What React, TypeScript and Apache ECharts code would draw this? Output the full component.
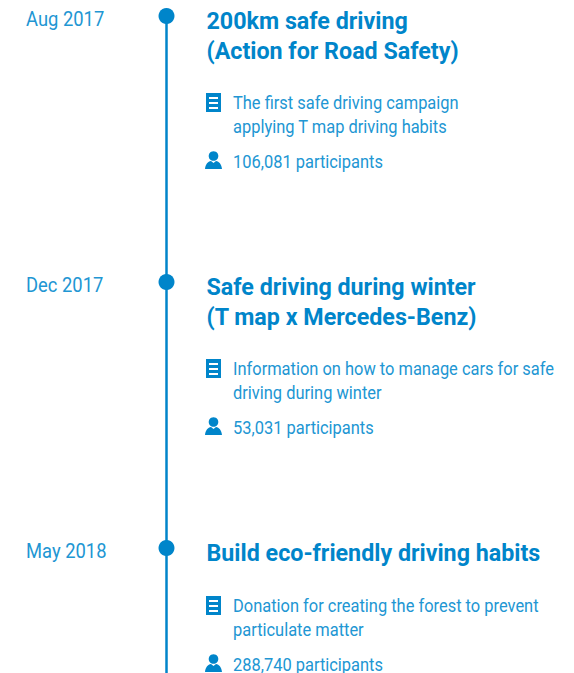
import React, { useEffect, useRef } from "react";
import * as echarts from "echarts";

const dates = ["Aug 2017", "Dec 2017", "May 2018"];
const titles = [
  ["200km safe driving", "(Action for Road Safety)"],
  ["Safe driving during winter", "(T map x Mercedes-Benz)"],
  ["Build eco-friendly driving habits"],
];
const descriptions = [
  ["The first safe driving campaign", "applying T map driving habits"],
  ["Information on how to manage cars for safe", "driving during winter"],
  ["Donation for creating the forest to prevent", "particulate matter"],
];
const participants = ["106,081 participants", "53,031 participants", "288,740 participants"];

const BLUE = "#0085ca";
const TEXT = "#2196d3";
const FONT = "Roboto";
const tops = [16, 282, 548];

echarts.graphic.registerShape(
  "personBody",
  echarts.graphic.extendPath(
    "M0 18 C0.5 13 3 10.5 6 10 L8.5 12 L11 10 C14 10.5 16.5 13 17 18 Z",
    {}
  )
);

export default function App() {
  const ref = useRef<HTMLDivElement>(null);
  useEffect(() => {
    const chart = echarts.init(ref.current!, null, { renderer: "svg" });
    const els: any[] = [];
    els.push({
      type: "line",
      shape: { x1: 166.5, y1: tops[0], x2: 166.5, y2: 673 },
      style: { stroke: BLUE, lineWidth: 2.5 },
    });
    const txt = (x: number, y: number, text: string, size: number, weight: any, fill: string, sx = 1) => ({
      type: "text",
      x,
      y,
      scaleX: sx,
      style: { text, x: 0, y: 0, fill, font: `${weight} ${size}px ${FONT}`, textVerticalAlign: "middle" },
    });
    tops.forEach((t, i) => {
      els.push({ type: "circle", shape: { cx: 166.5, cy: t, r: 8 }, style: { fill: BLUE } });
      els.push(txt(26, t + 3, dates[i], 20, 400, TEXT, 0.92));
      titles[i].forEach((line, j) => {
        els.push(txt(206.5, t + 5 + j * 30, line, 24, 700, BLUE, 0.97));
      });
      const shift = titles[i].length === 1 ? -29 : 0;
      const d0 = t + 87 + shift;
      descriptions[i].forEach((line, j) => {
        els.push(txt(233, d0 + j * 24, line, 17.5, 400, TEXT, 0.94));
      });
      els.push({ type: "rect", shape: { x: 206, y: d0 - 10, width: 15, height: 19 }, style: { fill: BLUE } });
      [0, 1, 2].forEach((k) => {
        els.push({ type: "rect", shape: { x: 209, y: d0 - 6 + k * 5, width: 9, height: 2 }, style: { fill: "#fff" } });
      });
      const p = d0 + 58;
      els.push({ type: "circle", shape: { cx: 213.5, cy: p - 5, r: 4.8 }, style: { fill: BLUE } });
      els.push({ type: "personBody", x: 205, y: p - 10, style: { fill: BLUE } });
      els.push(txt(233, p + 1, participants[i], 17.5, 400, TEXT, 0.94));
    });
    chart.setOption({ animation: false, graphic: { elements: els } });
    return () => chart.dispose();
  }, []);
  return <div ref={ref} style={{ position: "absolute", left: 0, top: 0, width: 574, height: 673, background: "#fff" }} />;
}
